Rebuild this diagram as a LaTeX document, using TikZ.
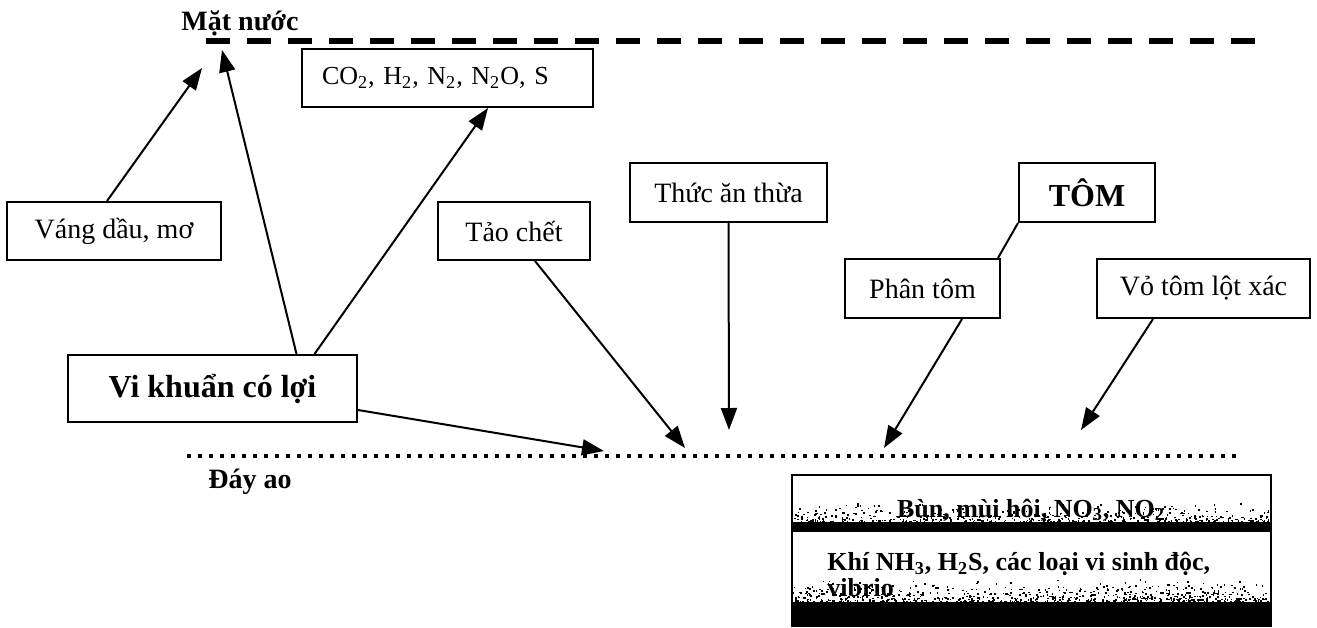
\documentclass[tikz,border=0pt]{standalone}
\usepackage{fontspec}
\setmainfont{Liberation Serif}
\usetikzlibrary{arrows.meta}
\begin{document}
\begin{tikzpicture}[x=0.5pt,y=-0.5pt,
                    box/.style={draw,line width=1pt,inner sep=0pt,minimum height=29pt,
                                font=\fontsize{14}{16}\selectfont},
                    flow/.style={line width=1pt,-{Triangle[length=11pt,width=8pt]}},
                    label text/.style={font=\bfseries\fontsize{14}{16}\selectfont,anchor=base}]
  \useasboundingbox (0,0) rectangle (1317,627);
  % mat nuoc va day ao
  \node[label text] (surf) at (240,30) {Mặt nước};
  \coordinate (surfL) at (206,41);
  \coordinate (surfR) at (1262,41);
  \draw[line width=2.6pt,dash pattern=on 12pt off 8.5pt] (surfL) -- (surfR);
  \node[label text] (bottom) at (250,488) {Đáy ao};
  \coordinate (botL) at (187,456);
  \coordinate (botR) at (1237,456);
  \draw[line width=2pt,dash pattern=on 2pt off 3.5pt] (botL) -- (botR);
  % cac hop
  \node[box,minimum width=107pt] (vang) at (114,231) {Váng dầu, mơ};
  \node[box,text width=125.5pt,inner xsep=10pt,align=left,font=\fontsize{13}{15}\selectfont] (co2) at (447.5,78)
       {CO\textsubscript{2}, H\textsubscript{2}, N\textsubscript{2}, N\textsubscript{2}O, S};
  \node[box,minimum width=76pt] (tao) at (514,231) {Tảo chết};
  \node[box,minimum width=98.5pt,minimum height=29.5pt] (thuc) at (728.5,192.5) {Thức ăn thừa};
  \node[box,minimum width=68pt,minimum height=29.5pt,font=\bfseries\fontsize{16}{18}\selectfont] (tom) at (1087,192.5) {TÔM};
  \node[box,minimum width=77.5pt,minimum height=29.5pt] (phan) at (922.5,288.5) {Phân tôm};
  \node[box,minimum width=106.5pt,minimum height=29.5pt] (vo) at (1203.5,288.5) {Vỏ tôm lột xác};
  \node[box,minimum width=144.5pt,minimum height=33.5pt,font=\bfseries\fontsize{16}{18}\selectfont] (vik) at (212.5,388.5) {Vi khuẩn có lợi};
  % diem den cua mui ten
  \coordinate (tipV) at (202,68);
  \coordinate (tipS) at (222,50);
  \coordinate (tipB) at (604,451);
  \coordinate (tipT) at (685,448);
  \coordinate (tipF) at (729,430);
  \coordinate (tipP) at (884,448);
  \coordinate (tipO) at (1081,430);
  \draw[flow] ([xshift=-3.5pt]vang.north) -- (tipV);
  \draw[flow] ([xshift=42pt]vik.north) -- (tipS);
  \draw[flow] ([xshift=51pt]vik.north) -- ([xshift=20.25pt]co2.south);
  \draw[flow] ([yshift=-10.75pt]vik.east) -- (tipB);
  \draw[flow] ([xshift=10.5pt]tao.south) -- (tipT);
  \draw[flow] (thuc.south) -- (tipF);
  \draw[line width=1pt] (tom.south west) -- ([xshift=-1.5pt]phan.north east);
  \draw[flow] ([xshift=19.75pt]phan.south) -- (tipP);
  \draw[flow] ([xshift=-25.25pt]vo.south) -- (tipO);
  % lop bun
  \node[font=\bfseries\fontsize{13}{13}\selectfont,anchor=base] (mud) at (1031,517)
       {Bùn, mùi hôi, NO\textsubscript{3}, NO\textsubscript{2}};
  \node[font=\bfseries\fontsize{13}{13}\selectfont,anchor=north west,align=left,inner sep=0pt] (gas) at (827,552)
       {Khí NH\textsubscript{3}, H\textsubscript{2}S, các loại vi sinh độc,\\vibrio};
  \fill (792,522) rectangle (1271,532);
  \fill (792,602) rectangle (1271,627);
  \pgfmathsetseed{12}
  \foreach \k in {1,...,520}{
    \pgfmathsetmacro{\gx}{792+477*rnd}
    \pgfmathsetmacro{\gy}{522-20*rnd*rnd}
    \fill (\gx,\gy) rectangle ++(1.6,1.6);
  }
  \foreach \k in {1,...,760}{
    \pgfmathsetmacro{\gx}{792+477*rnd}
    \pgfmathsetmacro{\gy}{602-24*rnd*rnd}
    \fill (\gx,\gy) rectangle ++(1.6,1.6);
  }
  \draw[line width=1pt] (792,627) -- (792,475) -- (1271,475) -- (1271,627);
\end{tikzpicture}
\end{document}
